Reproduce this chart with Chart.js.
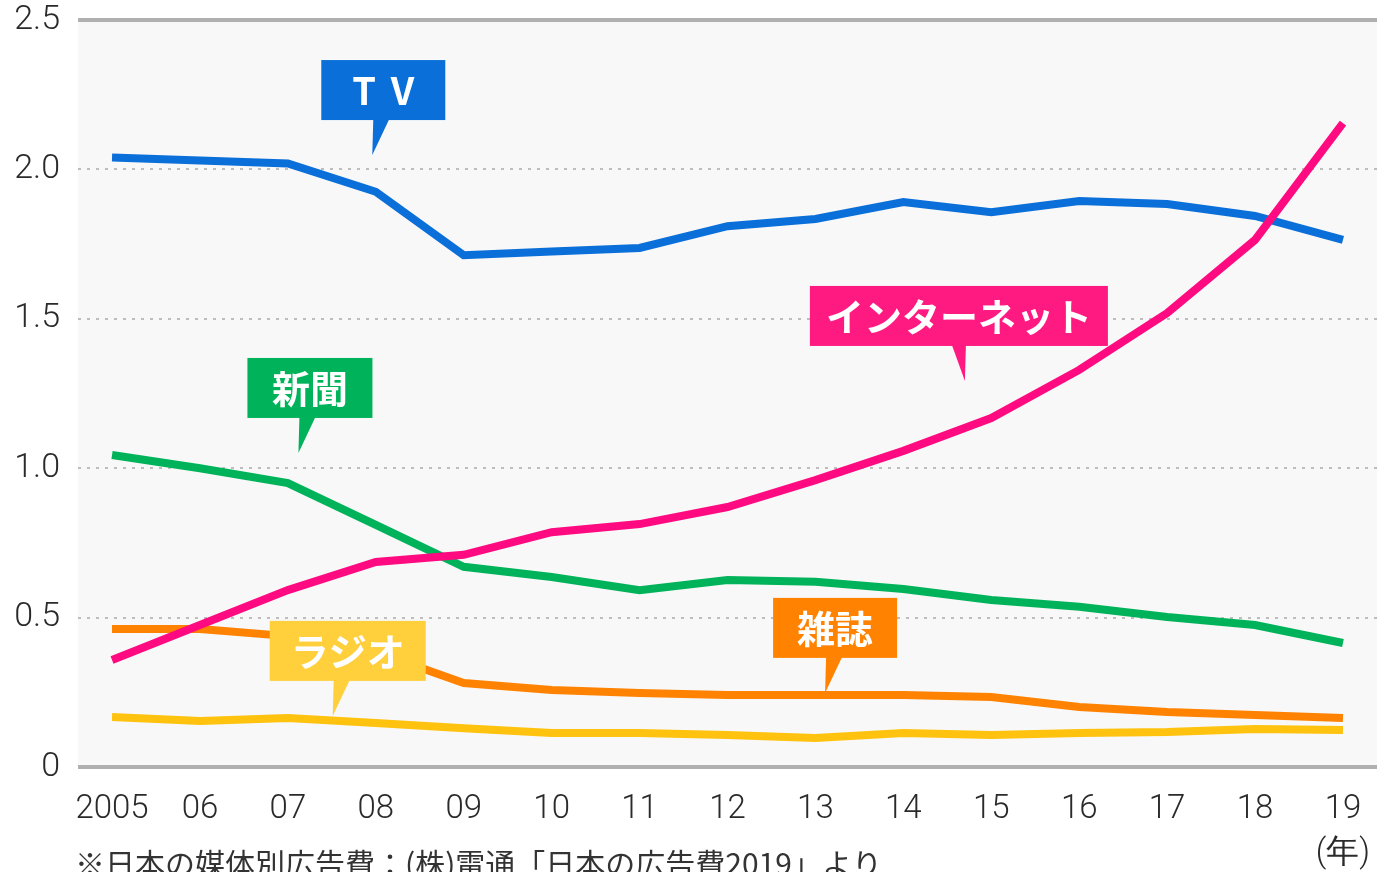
<!DOCTYPE html>
<html lang="ja">
<head>
<meta charset="utf-8">
<title>媒体別広告費の推移</title>
<script src="https://cdn.jsdelivr.net/npm/chart.js@4.4.1/dist/chart.umd.min.js"></script>
<style>
  html, body { margin: 0; padding: 0; background: #fff; overflow: hidden; }
  #wrap { position: relative; width: 1377px; height: 900px; }
</style>
</head>
<body>
<div id="wrap"><canvas id="adChart"></canvas></div>
<script>
// 媒体別広告費（兆円）
const years = [2005, 2006, 2007, 2008, 2009, 2010, 2011, 2012, 2013, 2014, 2015, 2016, 2017, 2018, 2019];
const xTickLabels = ['2005', '06', '07', '08', '09', '10', '11', '12', '13', '14', '15', '16', '17', '18', ['19', '(年)']];
const yTickValues = [0, 0.5, 1.0, 1.5, 2.0, 2.5];
const yTickLabels = ['0', '0.5', '1.0', '1.5', '2.0', '2.5'];

const tvValues        = [2.04, 2.03, 2.02, 1.925, 1.713, 1.725, 1.737, 1.81, 1.834, 1.891, 1.857, 1.894, 1.884, 1.844, 1.764];
const internetValues  = [0.358, 0.475, 0.592, 0.686, 0.71, 0.786, 0.813, 0.87, 0.96, 1.058, 1.168, 1.329, 1.519, 1.764, 2.155];
const newspaperValues = [1.044, 1.0, 0.95, 0.81, 0.67, 0.636, 0.592, 0.626, 0.62, 0.596, 0.559, 0.536, 0.502, 0.475, 0.415];
const magazineValues  = [0.462, 0.462, 0.438, 0.385, 0.281, 0.258, 0.248, 0.241, 0.241, 0.241, 0.234, 0.201, 0.184, 0.174, 0.164];
const radioValues     = [0.167, 0.154, 0.164, 0.147, 0.13, 0.114, 0.114, 0.107, 0.097, 0.114, 0.107, 0.114, 0.117, 0.127, 0.124];

// callout labels, anchored at the tip of the pointer (year, value)
const calloutTexts  = ['T V', '新聞', 'インターネット', 'ラジオ', '雑誌'];
const calloutYears  = [2007.96, 2007.12, 2014.70, 2007.51, 2013.11];
const calloutValues = [2.048, 1.051, 1.292, 0.171, 0.248];

const footnote = '※日本の媒体別広告費：(株)電通「日本の広告費2019」より';

const COLORS = {
    tv: '#0a6fd8',
    internet: '#ff0a80',
    newspaper: '#00b35a',
    magazine: '#ff8200',
    radio: '#ffc20e',
    radioBox: '#ffcf3c',
    internetBox: '#ff1a82'
};

// box layout for each callout: width, offset of box left from tip, pointer direction
const calloutBoxes = [
    { w: 124, dx: -51, color: COLORS.tv, leanLeft: false, spacing: 3 },
    { w: 125, dx: -51, color: COLORS.newspaper, leanLeft: false, spacing: 0 },
    { w: 298, dx: -155, color: COLORS.internetBox, leanLeft: true, spacing: 0 },
    { w: 156, dx: -63, color: COLORS.radioBox, leanLeft: false, spacing: 0 },
    { w: 124, dx: -52, color: COLORS.magazine, leanLeft: false, spacing: 0 }
];

function toPoints(values) {
    return values.map((v, i) => ({ x: years[i], y: v }));
}

const plotBackground = {
    id: 'plotBackground',
    beforeDraw(chart) {
        const { ctx, chartArea } = chart;
        ctx.save();
        ctx.fillStyle = '#f8f8f8';
        ctx.fillRect(chartArea.left, chartArea.top, chartArea.right - chartArea.left, chartArea.bottom - chartArea.top);
        ctx.restore();
    },
    beforeDatasetsDraw(chart) {
        // solid frame lines at 0 and 2.5
        const { ctx, chartArea, scales } = chart;
        ctx.save();
        ctx.strokeStyle = '#b0b0b0';
        ctx.lineWidth = 4;
        [0, 2.5].forEach(v => {
            const y = scales.y.getPixelForValue(v);
            ctx.beginPath();
            ctx.moveTo(chartArea.left, y);
            ctx.lineTo(chartArea.right, y);
            ctx.stroke();
        });
        ctx.restore();
    }
};

const callouts = {
    id: 'callouts',
    afterDatasetsDraw(chart) {
        const { ctx, scales } = chart;
        ctx.save();
        calloutTexts.forEach((text, i) => {
            const box = calloutBoxes[i];
            const tipX = scales.x.getPixelForValue(calloutYears[i]);
            const tipY = scales.y.getPixelForValue(calloutValues[i]);
            const bottom = tipY - 35;
            const top = bottom - 60;
            const left = tipX + box.dx;
            ctx.fillStyle = box.color;
            ctx.fillRect(left, top, box.w, 60);
            ctx.beginPath();
            if (box.leanLeft) {
                ctx.moveTo(tipX - 13, bottom - 1);
                ctx.lineTo(tipX + 1, bottom - 1);
            } else {
                ctx.moveTo(tipX + 1, bottom - 1);
                ctx.lineTo(tipX + 17, bottom - 1);
            }
            ctx.lineTo(tipX, tipY);
            ctx.closePath();
            ctx.fill();

            ctx.fillStyle = '#ffffff';
            ctx.font = 'bold 38px "Noto Sans CJK JP", "Noto Sans", sans-serif';
            ctx.textAlign = 'center';
            ctx.textBaseline = 'middle';
            ctx.letterSpacing = box.spacing + 'px';
            ctx.fillText(text, left + box.w / 2 + box.spacing / 2, top + 31);
            ctx.letterSpacing = '0px';
        });

        // source note under the axis
        ctx.fillStyle = '#333333';
        ctx.font = '30px "Noto Sans CJK JP", sans-serif';
        ctx.textAlign = 'left';
        ctx.textBaseline = 'middle';
        ctx.fillText(footnote, chart.chartArea.left - 3, 864);
        ctx.restore();
    }
};

const ctx = document.getElementById('adChart');

new Chart(ctx, {
    type: 'line',
    data: {
        datasets: [
            { label: 'インターネット', data: toPoints(internetValues), borderColor: COLORS.internet },
            { label: 'TV', data: toPoints(tvValues), borderColor: COLORS.tv },
            { label: '新聞', data: toPoints(newspaperValues), borderColor: COLORS.newspaper },
            { label: 'ラジオ', data: toPoints(radioValues), borderColor: COLORS.radio },
            { label: '雑誌', data: toPoints(magazineValues), borderColor: COLORS.magazine }
        ]
    },
    options: {
        responsive: true,
        maintainAspectRatio: false,
        animation: false,
        layout: {
            padding: { top: 20, right: 0, bottom: 0, left: 0 }
        },
        elements: {
            line: { borderWidth: 8, tension: 0, fill: false },
            point: { radius: 0, hoverRadius: 0 }
        },
        scales: {
            x: {
                type: 'linear',
                min: 2004.613,
                max: 2019.387,
                afterBuildTicks: function(scale) {
                    scale.ticks = years.map(v => ({ value: v }));
                },
                afterFit: function(scale) {
                    scale.height = 133;
                    scale.paddingLeft = 0;
                    scale.paddingRight = 0;
                },
                ticks: {
                    autoSkip: false,
                    maxRotation: 0,
                    padding: 20,
                    color: '#2a2a2a',
                    font: { family: 'Roboto, "Noto Sans", sans-serif', size: 33, weight: '300', lineHeight: 1.35 },
                    callback: function(value, index) {
                        return xTickLabels[index];
                    }
                },
                grid: { display: false, drawTicks: false },
                border: { display: false }
            },
            y: {
                min: 0,
                max: 2.5,
                afterBuildTicks: function(scale) {
                    scale.ticks = yTickValues.map(v => ({ value: v }));
                },
                afterFit: function(scale) {
                    scale.width = 78;
                    scale.paddingTop = 0;
                    scale.paddingBottom = 0;
                },
                ticks: {
                    padding: 18,
                    color: '#2a2a2a',
                    font: { family: 'Roboto, "Noto Sans", sans-serif', size: 34, weight: '300' },
                    callback: function(value, index) {
                        return yTickLabels[index];
                    }
                },
                grid: {
                    drawTicks: false,
                    lineWidth: 2,
                    color: function(c) {
                        const v = c.tick ? c.tick.value : 0;
                        return (v === 0 || v === 2.5) ? 'rgba(0,0,0,0)' : '#bdbdbd';
                    }
                },
                border: { display: false, dash: [3, 6] }
            }
        },
        plugins: {
            legend: { display: false },
            tooltip: { enabled: false }
        }
    },
    plugins: [plotBackground, callouts]
});
</script>
</body>
</html>
